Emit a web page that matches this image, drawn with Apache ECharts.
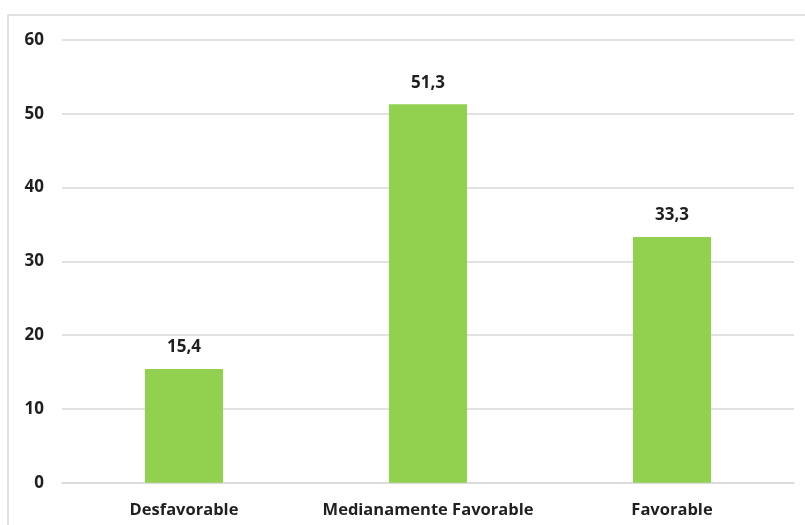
<!DOCTYPE html>
<html>
<head>
<meta charset="utf-8">
<script src="https://cdn.jsdelivr.net/npm/echarts@6/dist/echarts.min.js"></script>
<style>
  html, body { margin: 0; padding: 0; background: #ffffff; }
  #chart { width: 805px; height: 525px; }
</style>
</head>
<body>
<div id="chart"></div>
<script>
// Categories and percentage values
const categories = ['Desfavorable', 'Medianamente Favorable', 'Favorable'];
const values = [15.4, 51.3, 33.3];
const yTicks = [0, 10, 20, 30, 40, 50, 60];

const FONT = '"Open Sans", "DejaVu Sans", sans-serif';
const TEXT = '#1f1f1f';
const GRID = '#d9d9d9';

const chart = echarts.init(document.getElementById('chart'), null, { renderer: 'canvas' });

chart.setOption({
  animation: false,
  backgroundColor: '#ffffff',
  graphic: [{
    type: 'rect',
    shape: { x: 8, y: 15, width: 820, height: 540 },
    style: { fill: 'none', stroke: GRID, lineWidth: 1.5 },
    silent: true
  }],
  grid: { left: 62, right: 11, top: 40, bottom: 42.3, containLabel: false },
  xAxis: {
    type: 'category',
    data: categories,
    axisLine: { show: true, lineStyle: { color: GRID, width: 1.5 } },
    axisTick: { show: false },
    axisLabel: {
      interval: 0,
      margin: 19,
      color: TEXT,
      fontFamily: FONT,
      fontWeight: 'bold',
      fontSize: 16.5
    }
  },
  yAxis: {
    type: 'value',
    min: yTicks[0],
    max: yTicks[yTicks.length - 1],
    interval: 10,
    axisLine: { show: false },
    axisTick: { show: false },
    splitLine: { lineStyle: { color: GRID, width: 1.5 } },
    axisLabel: {
      margin: 18,
      color: TEXT,
      fontFamily: FONT,
      fontWeight: 'bold',
      fontSize: 17
    }
  },
  series: [{
    type: 'bar',
    data: values,
    barWidth: '32%',
    itemStyle: { color: '#92D050' },
    label: {
      show: true,
      position: 'top',
      distance: 13,
      color: TEXT,
      fontFamily: FONT,
      fontWeight: 'bold',
      fontSize: 17,
      formatter: p => p.value.toFixed(1).replace('.', ',')
    }
  }]
});
</script>
</body>
</html>
